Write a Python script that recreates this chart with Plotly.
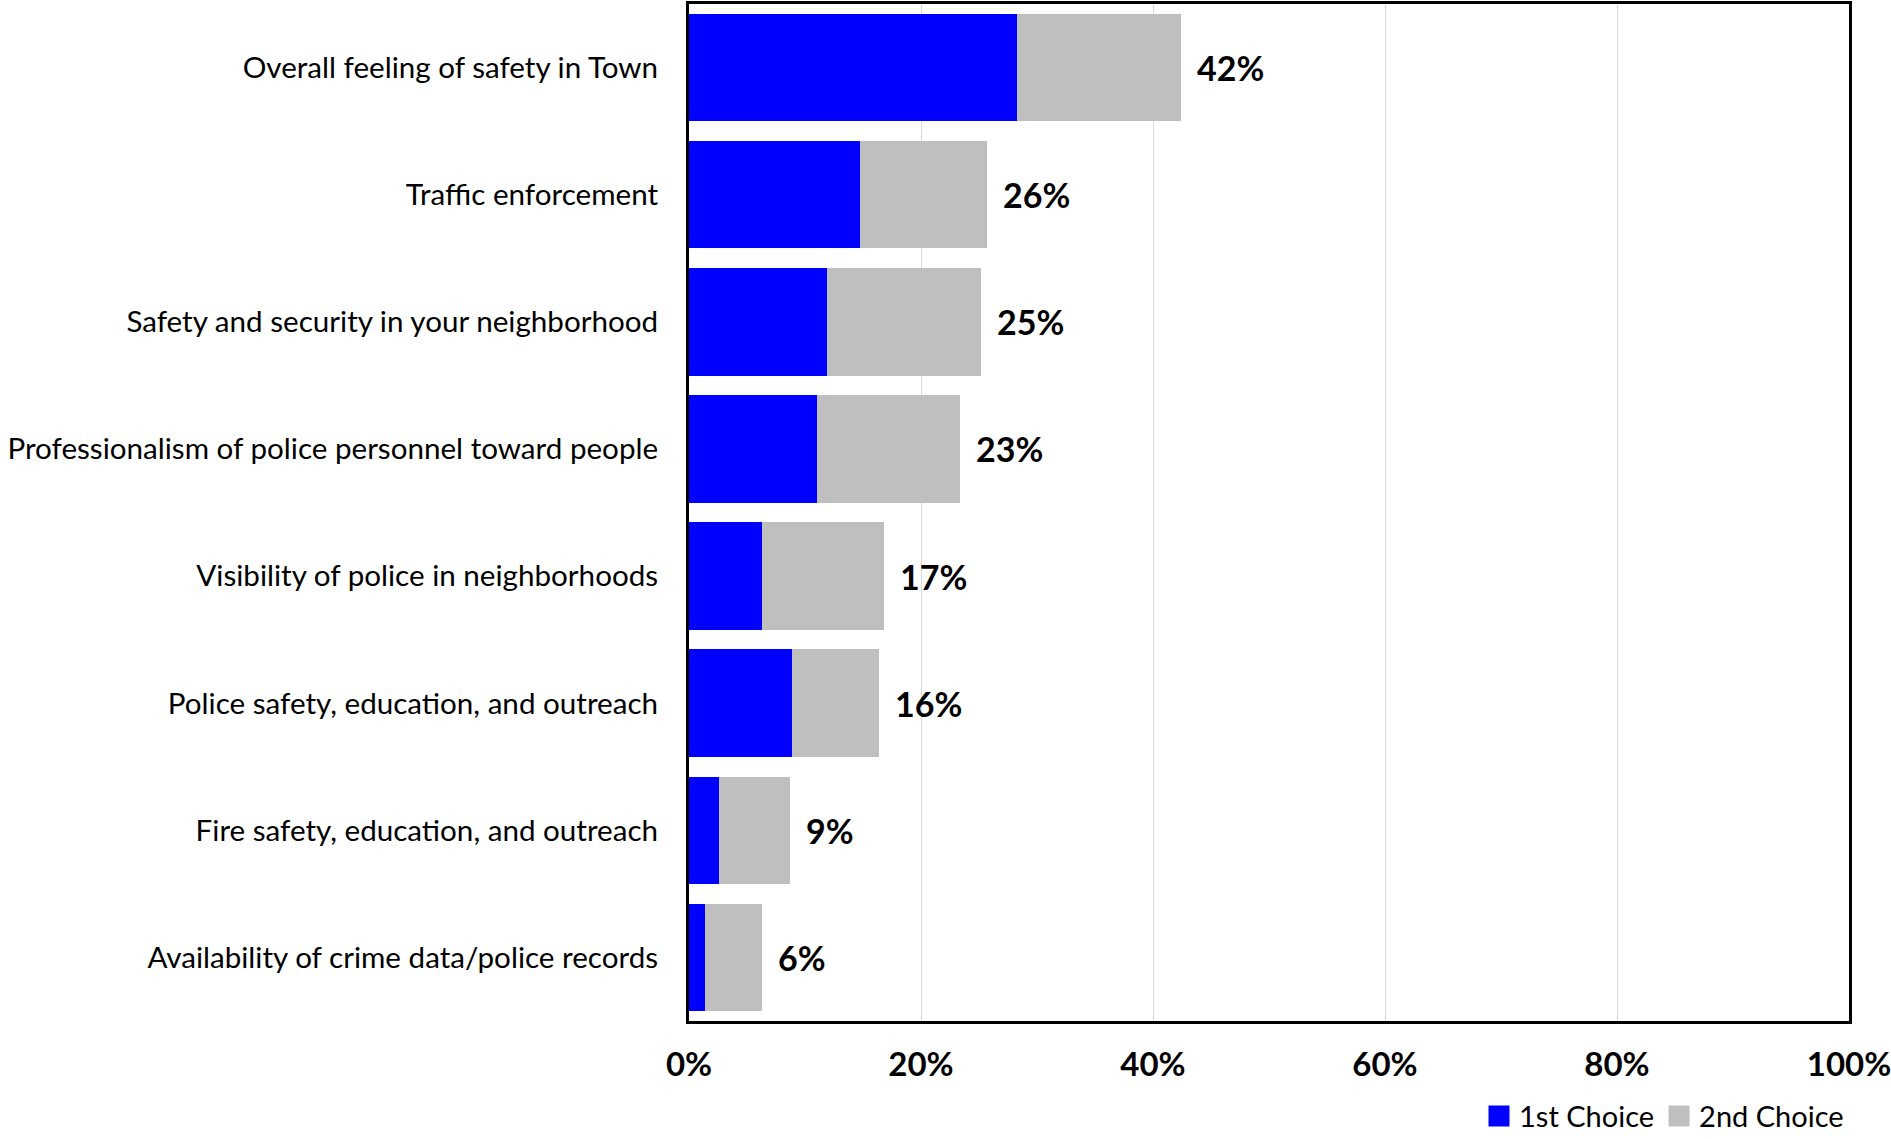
import plotly.graph_objects as go

# Survey items, listed top to bottom
categories = [
    "Overall feeling of safety in Town",
    "Traffic enforcement",
    "Safety and security in your neighborhood",
    "Professionalism of police personnel toward people",
    "Visibility of police in neighborhoods",
    "Police safety, education, and outreach",
    "Fire safety, education, and outreach",
    "Availability of crime data/police records",
]

# Share of respondents (%) choosing each item
first_choice = [28.3, 14.7, 11.9, 11.0, 6.3, 8.9, 2.6, 1.4]
second_choice = [14.1, 11.0, 13.3, 12.4, 10.5, 7.5, 6.1, 4.9]

series_names = ["1st Choice", "2nd Choice"]

x_ticks = [0, 20, 40, 60, 80, 100]
x_tick_labels = ["0%", "20%", "40%", "60%", "80%", "100%"]

totals = [a + b for a, b in zip(first_choice, second_choice)]

FONT = "Lato"
BLUE = "#0000FF"
GRAY = "#BFBFBF"

fig = go.Figure()
for name, vals, col in zip(series_names, [first_choice, second_choice], [BLUE, GRAY]):
    fig.add_trace(go.Bar(
        y=categories, x=vals, orientation="h", name=name,
        marker=dict(color=col, line=dict(width=0)),
        legendgroup=name, showlegend=False,
    ))
    # legend entry with a larger square swatch
    fig.add_trace(go.Scatter(
        x=[None], y=[None], mode="markers", name=name, legendgroup=name,
        marker=dict(symbol="square", size=16, color=col,
                    line=dict(color=col, width=5)),
        showlegend=True,
    ))

# Total labels just beyond the end of each stacked bar
for cat, tot in zip(categories, totals):
    fig.add_annotation(
        x=tot, y=cat, xref="x", yref="y",
        text=f"<b>{round(tot):d}%</b>", showarrow=False,
        xanchor="left", yanchor="middle", xshift=14,
        font=dict(family=FONT, size=34, color="black"),
    )

fig.update_layout(
    barmode="stack",
    bargap=0.155,
    width=1891, height=1139,
    margin=dict(l=689, r=42, t=4, b=118, autoexpand=False),
    paper_bgcolor="white", plot_bgcolor="white",
    font=dict(family=FONT, size=30, color="black"),
    legend=dict(
        orientation="h", x=1.0, xanchor="right",
        yref="container", y=0.02, yanchor="middle",
        font=dict(family=FONT, size=29, color="black"),
        traceorder="normal", itemwidth=30, tracegroupgap=0,
        bgcolor="rgba(0,0,0,0)",
    ),
    showlegend=True,
)

fig.update_xaxes(
    range=[0, 100], tickvals=x_ticks, ticktext=x_tick_labels,
    tickfont=dict(family=FONT, size=33, color="black", weight="bold"),
    showgrid=True, gridcolor="#D9D9D9", gridwidth=1,
    showline=True, linecolor="black", linewidth=3, mirror=True,
    zeroline=False, ticks="", ticklabelstandoff=12,
    ticklabeloverflow="allow",
)
fig.update_yaxes(
    autorange="reversed",
    tickfont=dict(family=FONT, size=29.6, color="black"),
    showgrid=False,
    showline=True, linecolor="black", linewidth=3, mirror=True,
    ticks="", ticklabelstandoff=22,
)

fig.write_html("out.html")
